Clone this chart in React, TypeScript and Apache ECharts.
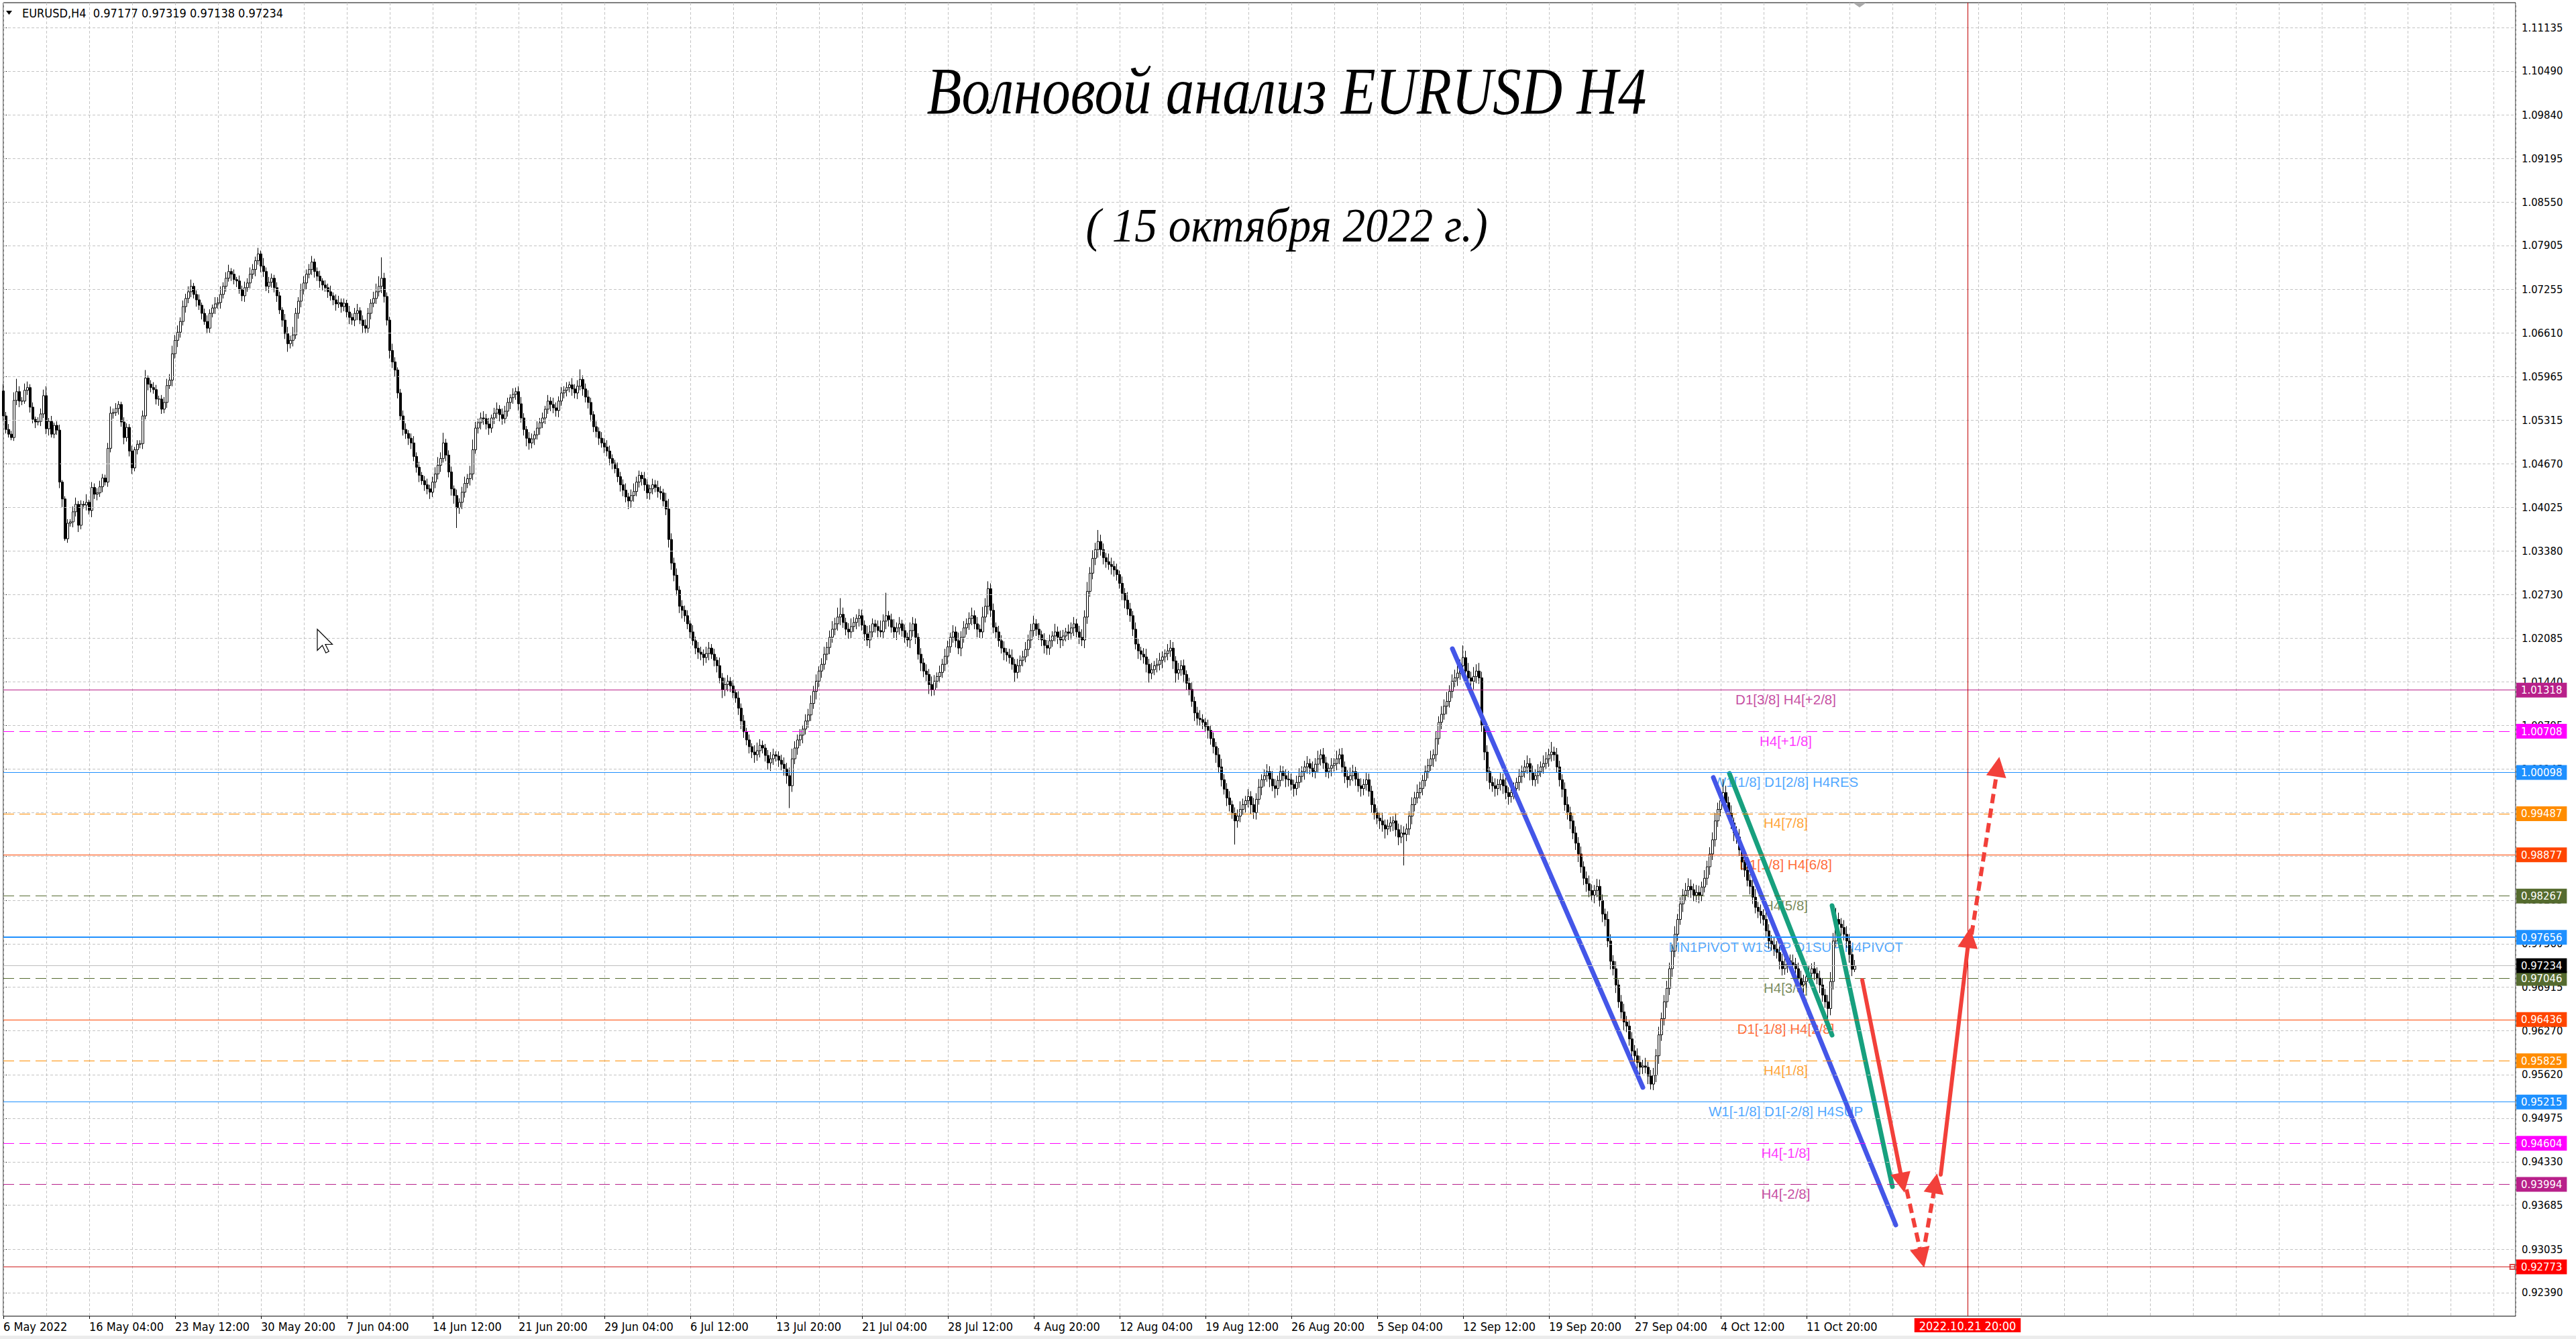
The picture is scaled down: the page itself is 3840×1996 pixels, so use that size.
import React, { useEffect, useRef } from 'react';
import * as echarts from 'echarts';

// ---------------- DATA ----------------
const SYMBOL = 'EURUSD,H4';
const HEADER_OHLC = ['0.97177', '0.97319', '0.97138', '0.97234'];
const TITLE = 'Волновой анализ EURUSD H4';
const SUBTITLE = '( 15 октября 2022 г.)';

const TIME_LABELS = [
  '6 May 2022', '16 May 04:00', '23 May 12:00', '30 May 20:00', '7 Jun 04:00', '14 Jun 12:00',
  '21 Jun 20:00', '29 Jun 04:00', '6 Jul 12:00', '13 Jul 20:00', '21 Jul 04:00', '28 Jul 12:00',
  '4 Aug 20:00', '12 Aug 04:00', '19 Aug 12:00', '26 Aug 20:00', '5 Sep 04:00', '12 Sep 12:00',
  '19 Sep 20:00', '27 Sep 04:00', '4 Oct 12:00', '11 Oct 20:00',
];
const TIME_LABEL_BARS = [0, 32, 64, 96, 128, 160, 192, 224, 256, 288, 320, 352, 384, 416, 448, 480, 512, 544, 576, 608, 640, 672];

const Y_TICKS = [
  1.11135, 1.1049, 1.0984, 1.09195, 1.0855, 1.07905, 1.07255, 1.0661, 1.05965, 1.05315,
  1.0467, 1.04025, 1.0338, 1.0273, 1.02085, 1.0144, 1.00795, 1.00145, 0.995, 0.98855,
  0.98205, 0.9756, 0.96915, 0.9627, 0.9562, 0.94975, 0.9433, 0.93685, 0.93035, 0.9239,
];

// candles: prices in pips above 0.9000 ; open of each bar = previous close
const OPEN_FIRST = 1575;
const CLOSE = [
  1538,1518,1511,1506,1561,1574,1560,1560,1576,1580,
  1551,1533,1529,1530,1541,1568,1519,1530,1511,1524,
  1517,1440,1415,1356,1379,1381,1396,1407,1376,1407,
  1406,1410,1398,1432,1422,1424,1433,1446,1440,1490,
  1542,1543,1549,1555,1529,1506,1521,1486,1461,1488,
  1496,1497,1538,1594,1585,1580,1577,1563,1563,1548,
  1558,1583,1591,1630,1650,1662,1678,1700,1712,1722,
  1730,1718,1710,1702,1690,1678,1668,1690,1698,1704,
  1706,1718,1730,1742,1752,1748,1740,1738,1725,1716,
  1728,1735,1748,1755,1768,1778,1760,1752,1730,1736,
  1742,1728,1716,1695,1680,1660,1645,1650,1658,1690,
  1708,1725,1735,1748,1755,1766,1752,1745,1738,1732,
  1728,1722,1716,1710,1704,1706,1700,1705,1692,1684,
  1680,1690,1694,1680,1672,1668,1690,1705,1712,1722,
  1730,1742,1715,1680,1635,1618,1606,1572,1538,1518,
  1512,1505,1498,1478,1462,1450,1442,1436,1430,1425,
  1440,1452,1465,1475,1498,1480,1455,1430,1420,1402,
  1410,1425,1438,1445,1452,1488,1520,1528,1535,1534,
  1526,1520,1535,1542,1548,1540,1534,1545,1558,1565,
  1570,1574,1556,1535,1518,1505,1498,1504,1510,1520,
  1528,1535,1548,1560,1555,1550,1546,1560,1572,1576,
  1580,1584,1578,1572,1582,1592,1578,1566,1558,1540,
  1522,1515,1505,1498,1492,1486,1475,1468,1460,1448,
  1436,1428,1418,1412,1420,1426,1440,1450,1445,1436,
  1424,1430,1436,1432,1426,1424,1412,1400,1355,1320,
  1302,1280,1256,1250,1242,1230,1218,1205,1194,1188,
  1185,1180,1186,1194,1185,1176,1168,1150,1132,1140,
  1145,1138,1128,1120,1105,1086,1070,1058,1048,1040,
  1036,1042,1050,1046,1035,1024,1030,1036,1034,1028,
  1022,1015,1005,990,1030,1046,1058,1065,1074,1086,
  1095,1112,1130,1145,1160,1170,1185,1195,1210,1222,
  1230,1240,1244,1232,1222,1218,1226,1232,1238,1242,
  1228,1215,1206,1218,1230,1226,1220,1218,1234,1242,
  1236,1225,1218,1224,1230,1220,1210,1206,1220,1230,
  1210,1185,1172,1160,1155,1140,1132,1145,1152,1158,
  1170,1182,1196,1210,1218,1205,1194,1210,1224,1230,
  1238,1242,1230,1222,1218,1240,1256,1282,1250,1225,
  1218,1205,1194,1188,1184,1180,1170,1158,1168,1176,
  1181,1192,1206,1220,1230,1222,1214,1206,1198,1194,
  1205,1212,1218,1210,1206,1212,1218,1216,1224,1230,
  1218,1210,1206,1240,1278,1305,1327,1340,1352,1340,
  1328,1322,1318,1315,1310,1303,1290,1275,1265,1252,
  1242,1222,1200,1190,1185,1181,1170,1157,1162,1168,
  1170,1176,1181,1186,1190,1194,1175,1157,1162,1168,
  1155,1142,1133,1115,1098,1090,1088,1084,1078,1072,
  1060,1048,1036,1018,999,985,972,962,950,938,
  945,955,962,968,974,962,950,970,988,999,
  1005,1011,1000,990,986,998,1011,1005,1000,999,
  992,986,995,1004,1011,1018,1023,1016,1011,1022,
  1030,1036,1024,1011,1016,1020,1023,1030,1036,1018,
  1004,999,1005,1011,1000,990,986,992,999,982,
  962,950,942,938,932,926,930,935,938,925,
  914,920,918,926,945,962,972,980,986,998,
  1011,1020,1030,1036,1060,1084,1096,1108,1115,1130,
  1145,1150,1157,1168,1180,1160,1150,1145,1152,1160,
  1150,1080,1040,1011,995,990,986,992,999,990,
  980,974,980,986,995,1004,1011,1018,1023,1010,
  999,1005,1011,1018,1023,1030,1036,1040,1036,1018,
  999,985,962,950,938,920,905,889,870,853,
  845,835,828,835,841,820,800,792,760,730,
  719,695,670,655,640,634,615,597,590,580,
  573,575,573,560,548,561,590,621,645,670,
  690,719,745,770,792,815,828,835,841,836,
  828,832,828,840,853,870,889,910,938,955,
  968,980,965,950,935,920,914,895,877,865,
  850,841,825,810,804,798,792,775,760,755,
  748,743,730,719,725,731,728,725,719,705,
  695,700,707,712,719,712,705,695,680,670,
  660,700,760,792,785,780,770,760,740,718,
  723,
];
// upper wick (pips above body) and lower wick (pips below body)
const UP = [
  10,6,8,5,12,19,8,6,10,9, 5,7,4,6,8,9,14,5,8,4, 6,8,3,4,6,4,8,10,5,6, 5,12,4,8,6,7,9,6,5,8,
  10,6,8,5,4,7,6,5,8,4, 6,5,8,12,4,6,8,7,5,6, 8,10,9,12,8,10,6,9,7,8, 10,5,6,8,4,7,9,6,5,10,
  8,12,6,9,10,5,7,4,8,6, 9,7,10,8,6,9,5,12,6,8, 7,5,8,6,4,9,10,7,12,8, 6,9,10,7,8,9,5,6,8,4,
  7,6,9,5,8,10,6,7,5,9, 6,8,10,5,7,9,8,6,10,12, 15,31,8,6,5,10,7,4,6,8, 9,5,7,10,6,8,5,7,9,6,
  8,10,12,9,15,6,7,8,5,9, 6,8,10,7,12,15,9,6,8,10, 7,9,5,8,10,6,9,8,7,5, 9,6,8,10,7,5,9,8,6,10,
  7,8,5,9,6,10,8,7,9,6, 8,5,10,7,9,15,6,8,10,7, 5,8,6,9,7,10,8,6,5,9, 7,8,10,6,9,12,8,7,5,10,
  8,6,9,7,10,8,6,12,15,9, 8,10,6,9,7,8,5,10,6,9, 8,7,10,9,6,8,5,12,7,10, 9,6,8,5,10,7,9,6,8,5,
  10,12,9,7,6,8,10,9,5,7, 8,10,9,12,15,10,8,9,6,10, 9,12,8,10,7,9,11,8,10,12, 9,14,24,10,7,9,12,8,6,10,
  9,7,12,10,8,6,9,15,10,34, 7,9,12,8,10,6,9,7,12,10, 8,6,9,7,10,8,12,9,6,10, 8,11,9,7,10,8,12,9,10,8,
  9,12,8,10,7,15,12,11,8,10, 7,9,8,10,6,9,12,8,10,7, 9,11,8,10,12,7,9,6,10,8, 9,7,12,8,10,9,6,11,8,10,
  7,9,12,10,14,9,12,10,17,10, 9,7,12,10,8,9,6,10,8,12, 9,7,10,8,6,9,12,8,10,7, 9,11,8,6,10,12,9,7,10,8,
  9,6,8,10,7,9,12,8,6,10, 8,9,7,10,12,8,9,10,6,8, 10,12,9,7,11,8,10,9,12,8, 9,11,8,12,10,7,9,8,10,12,
  9,7,10,12,8,9,11,7,10,9, 12,8,10,9,7,11,8,12,9,10, 8,9,12,10,7,9,11,8,10,9, 8,10,7,9,12,8,10,9,7,11,
  9,12,10,8,7,11,9,12,10,8, 9,10,12,8,11,9,12,10,14,9, 10,12,14,9,18,10,12,9,14,10, 12,9,8,10,7,9,11,8,10,9,
  12,8,10,9,7,11,9,10,12,8, 10,9,11,8,12,10,9,15,8,10, 9,8,10,12,9,8,10,9,11,8, 10,12,9,8,11,10,9,8,12,10,
  9,11,8,10,12,9,8,10,9,11, 10,9,12,8,9,11,10,12,9,10, 11,9,10,12,8,10,9,11,12,10, 9,11,10,8,12,9,10,11,12,10,
  12,20,10,9,11,8,10,12,9,10, 11,9,10,12,8,10,9,11,10,9, 10,12,9,11,10,8,9,12,10,9, 11,10,9,12,8,10,9,11,10,9,
  10,14,12,17,10,9,11,12,10,9, 9,
];
const DN = [
  8,6,5,4,5,7,9,6,4,7, 8,6,9,5,7,6,8,10,5,6, 7,9,12,3,6,5,8,7,10,6, 5,8,6,10,7,9,6,8,5,7,
  6,8,5,9,7,10,6,8,9,5, 7,6,8,5,9,7,6,8,10,7, 6,8,5,9,7,10,8,6,9,7, 8,6,10,7,9,5,8,7,6,9,
  7,9,6,8,5,10,7,9,6,8, 9,6,8,7,10,6,9,8,7,10, 8,7,9,6,10,8,12,7,9,6, 8,9,7,10,6,8,9,7,10,8,
  6,9,7,8,10,6,9,7,8,10, 7,9,10,6,12,8,7,9,6,8, 7,10,9,8,12,9,10,8,7,9, 8,10,9,7,8,10,6,9,8,10,
  7,9,8,10,6,9,8,10,12,30, 9,10,8,7,10,9,6,8,10,9, 8,10,7,9,8,10,9,7,8,10, 9,8,10,7,9,12,10,8,9,7,
  10,8,9,7,10,8,9,10,7,8, 9,7,10,8,9,6,10,8,9,10, 8,9,10,7,9,8,10,9,7,8, 10,9,8,12,10,9,7,8,10,9,
  9,10,8,7,9,10,8,9,12,10, 9,8,10,12,9,8,10,7,9,10, 9,12,8,10,7,9,10,8,12,9, 10,9,8,7,10,12,9,8,10,9,
  12,9,10,8,9,10,12,9,8,10, 9,10,12,33,9,8,10,9,12,8, 10,9,8,12,9,10,8,9,10,8, 9,10,12,8,9,10,9,8,10,12,
  8,10,9,12,8,9,10,8,9,12, 10,8,9,12,10,9,8,10,12,9, 10,8,12,9,10,14,9,8,10,9, 8,10,12,9,8,10,9,12,8,10,
  9,10,8,12,9,10,8,12,10,9, 10,9,8,12,10,9,8,14,9,10, 9,8,10,12,9,10,8,9,12,10, 10,9,8,10,12,9,8,10,9,12,
  8,10,9,12,10,8,9,10,12,9, 10,9,8,12,10,9,8,10,12,9, 9,10,8,12,9,10,12,14,9,8, 10,9,12,8,10,9,12,14,10,9,
  12,10,9,8,12,10,9,10,8,12, 9,10,12,9,10,8,12,10,9,35, 10,9,8,12,10,14,9,10,8,12, 10,9,12,8,14,10,9,8,12,10,
  9,12,10,8,9,12,10,9,8,10, 12,10,9,8,10,12,9,10,8,9, 10,12,9,8,10,9,12,10,9,8, 12,10,9,12,10,14,9,8,12,10,
  12,9,46,10,9,12,10,8,9,10, 9,10,8,12,10,9,10,8,12,9, 10,9,12,10,9,12,10,9,12,10, 9,10,12,14,10,9,12,10,9,12,
  10,12,9,10,8,12,10,9,10,12, 9,10,12,8,10,9,12,10,9,8, 10,12,9,10,12,9,10,12,9,10, 12,10,9,12,10,9,12,10,9,12,
  10,12,9,10,12,9,10,12,9,10, 12,10,9,12,8,9,10,12,9,10, 9,10,12,9,10,8,12,9,10,12, 9,10,12,9,8,10,12,9,10,9,
  10,9,12,10,9,12,10,9,12,10, 9,12,10,9,10,12,9,10,12,9, 10,9,12,10,9,12,10,9,12,10, 9,12,10,9,12,10,9,12,10,9,
  25,10,12,9,10,12,9,10,12,10, 4,
];

// support / resistance levels
const LEVEL_PRICES = [1.01318, 1.00708, 1.00098, 0.99487, 0.98877, 0.98267, 0.97656, 0.97046, 0.96436, 0.95825, 0.95215, 0.94604, 0.93994];
const LEVEL_NAMES = [
  'D1[3/8] H4[+2/8]', 'H4[+1/8]', 'W1[1/8] D1[2/8] H4RES', 'H4[7/8]', 'D1[1/8] H4[6/8]', 'H4[5/8]',
  'MN1PIVOT W1SUP D1SUP H4PIVOT', 'H4[3/8]', 'D1[-1/8] H4[2/8]', 'H4[1/8]', 'W1[-1/8] D1[-2/8] H4SUP', 'H4[-1/8]', 'H4[-2/8]',
];
const BID_PRICE = 0.97234;
const TARGET_PRICE = 0.92773;
const FUTURE_BAR = 732;
const FUTURE_LABEL = '2022.10.21 20:00';

// drawn objects: [bar, price] pairs
const BLUE_LINES = [
  [[540, 1.01931], [611, 0.95431]],
  [[637.25, 1.00023], [705.25, 0.93393]],
];
const GREEN_LINES = [
  [[643.25, 1.00083], [681.5, 0.96206]],
  [[681.5, 0.98125], [704, 0.9396]],
];
const RED_SOLID_ARROWS = [
  [[692.75, 0.97021], [707.75, 0.94019]],
  [[722, 0.94139], [732.5, 0.97647]],
];
const RED_DASHED_ARROWS = [
  [[709.25, 0.9392], [715, 0.92906]],
  [[715.25, 0.92926], [720, 0.9401]],
  [[733.5, 0.97697], [743.25, 1.00182]],
];

// ---------------- STYLE / LAYOUT ----------------
const LEVEL_COLORS = ['#B8208A', '#FF00FF', '#1E90FF', '#FF8C00', '#FF4500', '#556B2F', '#1E90FF', '#556B2F', '#FF4500', '#FF8C00', '#1E90FF', '#FF00FF', '#B8208A'];
const LEVEL_DASHED = [false, true, false, true, false, true, false, true, false, true, false, true, true];
const LEVEL_WIDTH = [1, 1, 1, 1, 1, 1, 2, 1, 1, 1, 1, 1, 1];
const LEVEL_LABEL_BAR = 664.25;
const AXIS_FONT = "'DejaVu Sans Condensed', 'Liberation Sans', sans-serif";
const TIME_FONT = "'Liberation Sans Narrow', 'DejaVu Sans Condensed', sans-serif";
const LABEL_FONT = "'Liberation Sans', Arial, sans-serif";
const GRID = { left: 5, right: 90, top: 4, bottom: 34 };
const X_MAX = 936.25;
const Y_MIN = 0.920415;
const Y_MAX = 1.115028;
const GRID_COLOR = '#C4C4C4';
const ARROW_RED = '#F2403A';

const px = (v: number) => +(0.9 + v / 10000).toFixed(5);

function buildOption() {
  const candles = CLOSE.map((c, i) => {
    const o = i === 0 ? OPEN_FIRST : CLOSE[i - 1];
    const h = Math.max(o, c) + UP[i];
    const l = Math.min(o, c) - DN[i];
    return [i, px(o), px(c), px(l), px(h)];
  });

  const priceBox = (p: number, bg: string) => ({
    show: true,
    position: 'end',
    distance: 1,
    formatter: p.toFixed(5),
    backgroundColor: bg,
    color: '#fff',
    padding: [2, 7, 1, 7],
    fontSize: 16.5,
    lineHeight: 19,
    fontFamily: AXIS_FONT,
  });

  const hPair = (p: number, extra: any) => [{ coord: [0, p], ...extra }, { coord: [X_MAX, p] }];

  const levelMarks: any[] = LEVEL_PRICES.map((p, i) =>
    hPair(p, {
      lineStyle: { color: LEVEL_COLORS[i], width: LEVEL_WIDTH[i], type: LEVEL_DASHED[i] ? [16, 8] : 'solid' },
      label: priceBox(p, LEVEL_COLORS[i]),
    })
  );
  levelMarks.push(hPair(BID_PRICE, {
    lineStyle: { color: '#BEBEBE', width: 1, type: 'solid' },
    label: priceBox(BID_PRICE, '#000'),
  }));
  levelMarks.push(hPair(TARGET_PRICE, {
    lineStyle: { color: '#D02020', width: 1, type: 'solid' },
    label: priceBox(TARGET_PRICE, '#FF0000'),
  }));

  const lineSeries = (pairs: number[][][], color: string, width: number, z: number) =>
    pairs.map((pr) => ({
      type: 'line',
      data: pr,
      showSymbol: false,
      symbol: 'none',
      silent: true,
      z,
      clip: false,
      lineStyle: { color, width, cap: 'round' },
    }));

  const arrowSeries = (pairs: number[][][], dashed: boolean) => ({
    type: 'line', data: [], z: 5, silent: true, clip: false,
    markLine: {
      silent: true, animation: false, symbol: ['none', 'triangle'], symbolSize: 30,
      label: { show: false },
      itemStyle: { color: ARROW_RED },
      lineStyle: { color: ARROW_RED, width: 6, type: dashed ? [14, 8] : 'solid', cap: dashed ? 'butt' : 'round' },
      data: pairs.map((a) => [{ coord: a[0] }, { coord: a[1] }]),
    },
  });

  return {
    animation: false,
    backgroundColor: '#fff',
    grid: { ...GRID, show: true, borderColor: '#000', borderWidth: 1, backgroundColor: '#fff' },
    xAxis: [
      {
        type: 'value', min: 0, max: X_MAX, interval: 16,
        axisLine: { show: false }, axisTick: { show: false }, axisLabel: { show: false },
        splitLine: { show: true, lineStyle: { color: GRID_COLOR, type: [4, 3], width: 1 } },
      },
      {
        type: 'value', min: 0, max: X_MAX, position: 'bottom',
        axisLine: { show: false },
        splitLine: { show: false },
        axisTick: { show: true, customValues: TIME_LABEL_BARS, length: 4, lineStyle: { color: '#000' } },
        axisLabel: {
          show: true, customValues: TIME_LABEL_BARS, align: 'left', margin: 6,
          formatter: (v: number) => TIME_LABELS[TIME_LABEL_BARS.indexOf(Math.round(v))] || '',
          color: '#000', fontSize: 18, fontFamily: TIME_FONT,
        },
      },
    ],
    yAxis: [
      {
        type: 'value', position: 'right', min: Y_MIN, max: Y_MAX,
        axisLine: { show: false },
        splitLine: { show: false },
        axisTick: { show: true, customValues: Y_TICKS, length: 5, lineStyle: { color: '#000' } },
        axisLabel: {
          show: true, customValues: Y_TICKS, margin: 9,
          formatter: (v: number) => v.toFixed(5),
          color: '#000', fontSize: 16.5, fontFamily: AXIS_FONT,
        },
      },
    ],
    series: [
      {
        type: 'line', data: [], z: 1, silent: true, clip: false,
        markLine: {
          silent: true, symbol: 'none', animation: false,
          label: { show: false },
          lineStyle: { color: GRID_COLOR, type: [4, 3], width: 1 },
          data: Y_TICKS.map((v) => hPair(v, {})),
        },
      },
      {
        type: 'line', data: [], z: 2, silent: true, clip: false,
        markLine: { silent: true, symbol: 'none', animation: false, data: levelMarks },
      },
      {
        type: 'scatter', z: 2, silent: true, symbol: 'emptyRect', symbolSize: 7, clip: false,
        itemStyle: { color: '#D02020', borderColor: '#D02020', borderWidth: 1 },
        data: [[X_MAX - 1.2, TARGET_PRICE]],
      },
      {
        type: 'scatter', z: 2, silent: true, symbolSize: 1, clip: false,
        itemStyle: { color: 'transparent' },
        label: { show: true, position: 'bottom', distance: 3, formatter: '{b}', fontSize: 20.5, fontFamily: LABEL_FONT },
        data: LEVEL_PRICES.map((p, i) => ({ name: LEVEL_NAMES[i], value: [LEVEL_LABEL_BAR, p], label: { color: LEVEL_COLORS[i] } })),
      },
      {
        type: 'candlestick', name: SYMBOL, z: 3, silent: true, large: false,
        dimensions: ['bar', 'open', 'close', 'lowest', 'highest'],
        encode: { x: 0, y: [1, 2, 3, 4] },
        barWidth: 3,
        itemStyle: { color: '#fff', color0: '#000', borderColor: '#000', borderColor0: '#000', borderWidth: 1 },
        data: candles,
      },
      {
        type: 'line', data: [], z: 3, silent: true, clip: false,
        markLine: {
          silent: true, symbol: 'none', animation: false,
          data: [{
            xAxis: FUTURE_BAR,
            lineStyle: { color: '#C00000', width: 1, type: 'solid' },
            label: {
              show: true, position: 'start', distance: 3, formatter: FUTURE_LABEL,
              backgroundColor: '#FF0000', color: '#fff', padding: [2, 7, 1, 7], fontSize: 18, fontFamily: TIME_FONT,
            },
          }],
        },
      },
      ...lineSeries(BLUE_LINES, '#4456E8', 7, 4),
      ...lineSeries(GREEN_LINES, '#17A07E', 7, 4),
      arrowSeries(RED_SOLID_ARROWS, false),
      arrowSeries(RED_DASHED_ARROWS, true),
    ],
    graphic: [
      { type: 'polygon', z: 100, shape: { points: [[9, 16], [18, 16], [13.5, 22]] }, style: { fill: '#000' } },
      {
        type: 'text', z: 100, x: 33, y: 19,
        style: {
          text: SYMBOL + '  ' + HEADER_OHLC.join(' '), fill: '#000', fontSize: 18, fontFamily: AXIS_FONT,
          align: 'left', verticalAlign: 'middle', textAlign: 'left', textVerticalAlign: 'middle',
        },
      },
      { type: 'polygon', z: 100, shape: { points: [[2762, 4], [2782, 4], [2772, 11]] }, style: { fill: '#A8A8A8' } },
      {
        type: 'text', z: 100, x: 1918, y: 135, scaleX: 0.85,
        style: {
          text: TITLE, fill: '#000', font: 'italic 100px "Liberation Serif", "DejaVu Serif", serif',
          align: 'center', verticalAlign: 'middle', textAlign: 'center', textVerticalAlign: 'middle',
          shadowColor: 'rgba(0,0,0,0.45)', shadowBlur: 6, shadowOffsetX: 3, shadowOffsetY: 5,
        },
      },
      {
        type: 'text', z: 100, x: 1918, y: 336, scaleX: 0.935,
        style: {
          text: SUBTITLE, fill: '#000', font: 'italic 72px "Liberation Serif", "DejaVu Serif", serif',
          align: 'center', verticalAlign: 'middle', textAlign: 'center', textVerticalAlign: 'middle',
          shadowColor: 'rgba(0,0,0,0.45)', shadowBlur: 5, shadowOffsetX: 3, shadowOffsetY: 4,
        },
      },
      {
        type: 'polygon', z: 100, x: 473, y: 938, scaleX: 1.5, scaleY: 1.5,
        shape: { points: [[0, 0], [0, 21], [5, 16], [8.5, 23.5], [11.5, 22], [8, 15], [15, 15]] },
        style: { fill: '#fff', stroke: '#000', lineWidth: 0.8 },
      },
      { type: 'rect', z: 100, shape: { x: 0, y: 1991, width: 3840, height: 5 }, style: { fill: '#ECECEC' } },
    ],
  };
}

export default function App() {
  const ref = useRef<HTMLDivElement>(null);
  useEffect(() => {
    if (!ref.current) return;
    const chart = echarts.init(ref.current, null, { renderer: 'svg' });
    chart.setOption(buildOption() as any);
    return () => chart.dispose();
  }, []);
  return (
    <div
      ref={ref}
      style={{ position: 'fixed', left: 0, top: 0, width: 3840, height: 1996, background: '#fff' }}
    />
  );
}
